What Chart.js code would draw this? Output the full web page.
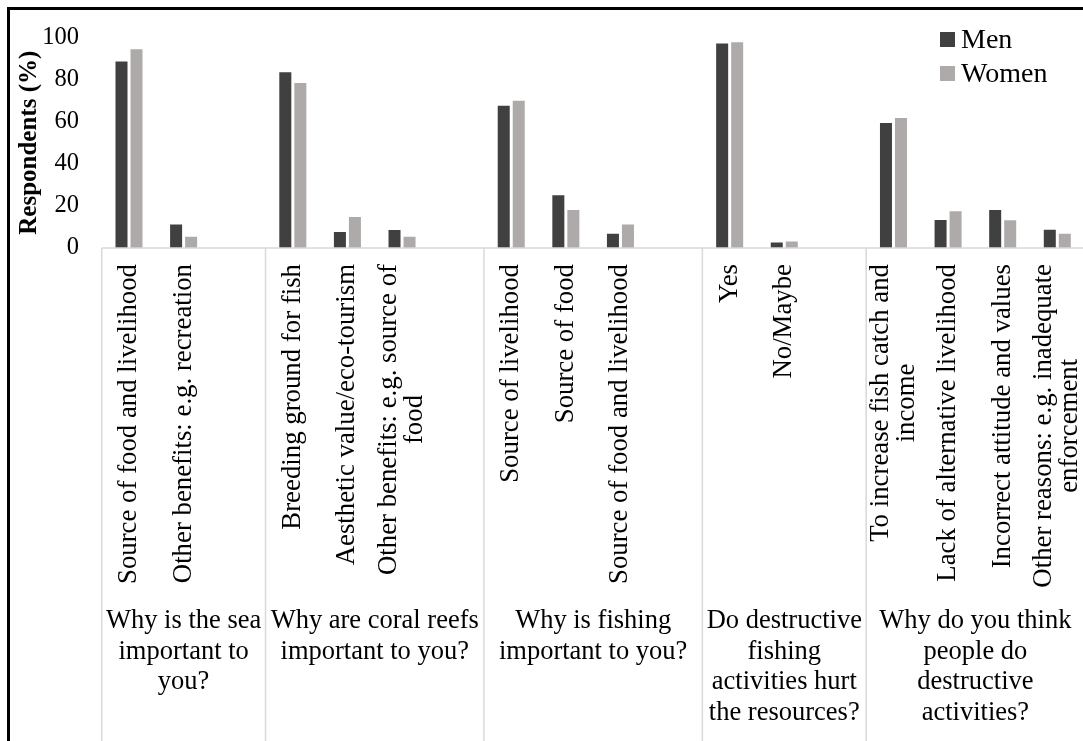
<!DOCTYPE html>
<html>
<head>
<meta charset="utf-8">
<script src="https://cdn.jsdelivr.net/npm/chart.js@4.4.1/dist/chart.umd.min.js"></script>
<style>
  body { margin: 0; background: #fff; overflow: hidden; }
  #frame { position: absolute; left: 7px; top: 7px; width: 1200px; height: 1000px; border: 3px solid #000; background: #fff; }
  #myChart { position: absolute; left: 0; top: 0; }
</style>
</head>
<body>
<div id="frame"></div>
<canvas id="myChart" width="1090" height="741"></canvas>
<script>
// questions (outer level of the axis) and how many answer slots each one spans
var questions = [
  ['Why is the sea', 'important to', 'you?'],
  ['Why are coral reefs', 'important to you?'],
  ['Why is fishing', 'important to you?'],
  ['Do destructive', 'fishing', 'activities hurt', 'the resources?'],
  ['Why do you think', 'people do', 'destructive', 'activities?']
];
var groupSizes = [3, 4, 4, 3, 4];

// answers (inner level), blank slots keep the gap after each question
var answers = [
  'Source of food and livelihood', 'Other benefits: e.g. recreation', '',
  'Breeding ground for fish', 'Aesthetic value/eco-tourism', ['Other benefits: e.g. source of', 'food'], '',
  'Source of livelihood', 'Source of food', 'Source of food and livelihood', '',
  'Yes', 'No/Maybe', '',
  ['To increase fish catch and', 'income'], 'Lack of alternative livelihood', 'Incorrect attitude and values', ['Other reasons: e.g. inadequate', 'enforcement']
];

var men   = [88.5, 11.2, null, 83.4, 7.6, 8.5, null, 67.6, 25.0, 6.8, null, 97.1, 2.6, null, 59.4, 13.3, 18.0, 8.7];
var women = [94.4, 5.3, null, 78.3, 14.7, 5.4, null, 69.9, 18.0, 11.2, null, 97.7, 3.1, null, 61.7, 17.5, 13.2, 6.8];

var yTicks = [0, 20, 40, 60, 80, 100];

var serif = '"Liberation Serif", "Times New Roman", serif';
Chart.defaults.font.family = serif;
Chart.defaults.color = '#000';

// two level category axis + legend inside the plot
var multiAxis = {
  id: 'multiAxis',
  afterDraw: function (chart) {
    var ctx = chart.ctx, x = chart.scales.x, area = chart.chartArea;
    var half = (x.getPixelForValue(1) - x.getPixelForValue(0)) / 2;
    var bottom = chart.height;
    ctx.save();
    ctx.strokeStyle = '#d9d9d9';
    ctx.lineWidth = 1.5;
    ctx.beginPath();
    ctx.moveTo(area.left, area.bottom);
    ctx.lineTo(area.right, area.bottom);
    var idx = 0;
    var starts = [];
    for (var g = 0; g <= groupSizes.length; g++) {
      var px = x.getPixelForValue(idx) - half;
      starts.push(px);
      ctx.moveTo(px, area.bottom);
      ctx.lineTo(px, bottom);
      if (g < groupSizes.length) idx += groupSizes[g];
    }
    ctx.stroke();

    // answers, rotated to read upwards
    ctx.fillStyle = '#000';
    ctx.font = '26.8px ' + serif;
    ctx.textAlign = 'center';
    ctx.textBaseline = 'middle';
    var labelTop = area.bottom + 16;
    answers.forEach(function (a, i) {
      var lines = Array.isArray(a) ? a : [a];
      if (!lines[0]) return;
      var w = 0;
      lines.forEach(function (l) { w = Math.max(w, ctx.measureText(l).width); });
      ctx.save();
      ctx.translate(x.getPixelForValue(i), labelTop + w / 2);
      ctx.rotate(-Math.PI / 2);
      lines.forEach(function (l, j) {
        ctx.fillText(l, 0, (j - (lines.length - 1) / 2) * 26);
      });
      ctx.restore();
    });

    // questions
    ctx.font = '26.5px ' + serif;
    ctx.textBaseline = 'alphabetic';
    questions.forEach(function (q, g) {
      var cx = (starts[g] + starts[g + 1]) / 2;
      q.forEach(function (l, j) {
        ctx.fillText(l, cx, 628 + j * 30.5);
      });
    });

    // legend
    ctx.font = '28px ' + serif;
    ctx.textAlign = 'left';
    chart.data.datasets.forEach(function (ds, i) {
      var y = 32 + i * 34;
      ctx.fillStyle = ds.backgroundColor;
      ctx.fillRect(940, y, 15, 15);
      ctx.fillStyle = '#000';
      ctx.fillText(ds.label, 961, y + 16);
    });
    ctx.restore();
  }
};

var ctx = document.getElementById('myChart').getContext('2d');

var chart = new Chart(ctx, {
  type: 'bar',
  data: {
    labels: answers,
    datasets: [{
      label: 'Men',
      backgroundColor: '#404040',
      data: men,
      categoryPercentage: 0.55,
      barPercentage: 0.8
    }, {
      label: 'Women',
      backgroundColor: '#aeaaaa',
      data: women,
      categoryPercentage: 0.55,
      barPercentage: 0.8
    }]
  },
  options: {
    responsive: false,
    animation: false,
    layout: { padding: { left: 0, top: 33, right: 5.4, bottom: 493 } },
    plugins: { legend: { display: false }, tooltip: { enabled: false } },
    scales: {
      x: { display: false },
      y: {
        min: 0,
        max: 100,
        afterFit: function (scale) { scale.width = 101.7; },
        afterBuildTicks: function (scale) { scale.ticks = yTicks.map(function (v) { return { value: v }; }); },
        grid: { display: false, drawTicks: false },
        border: { display: false },
        ticks: { padding: 22.7, font: { size: 24.5 }, color: '#000' },
        title: {
          display: true,
          text: 'Respondents (%)',
          font: { size: 25, weight: 'bold' },
          color: '#000',
          padding: { top: 15, bottom: 0 }
        }
      }
    }
  },
  plugins: [multiAxis]
});
</script>
</body>
</html>
